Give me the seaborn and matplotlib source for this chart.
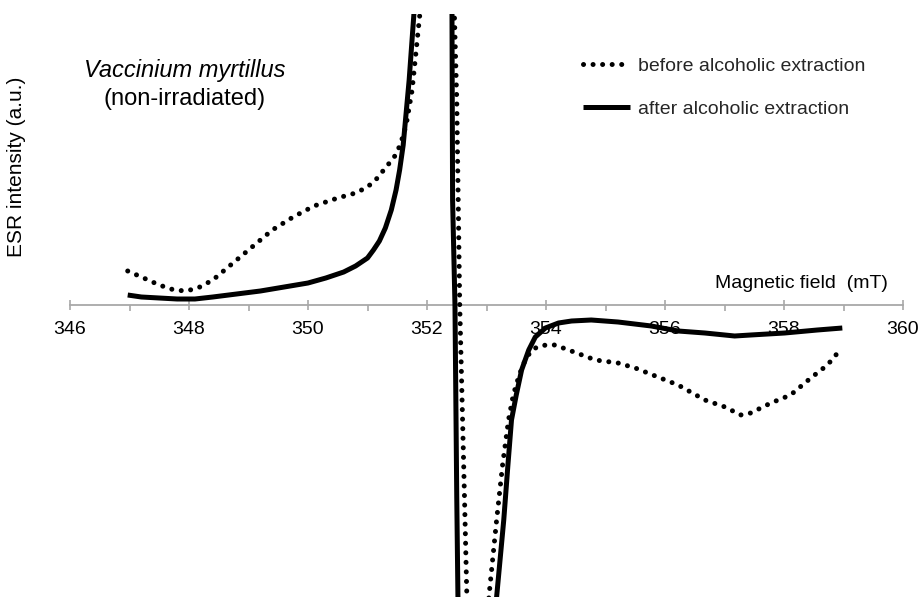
import numpy as np
import pandas as pd
import matplotlib
matplotlib.use("Agg")
import matplotlib.pyplot as plt
from matplotlib.ticker import MultipleLocator
import seaborn as sns

# ---- data (y in arbitrary units) ----
after_x = [346.97, 347.2, 347.5, 347.8, 348.1, 348.4, 348.8, 349.2, 349.6, 350.0,
           350.3, 350.6, 350.8, 351.0, 351.1, 351.2, 351.3, 351.4, 351.48, 351.54,
           351.6, 351.7, 351.78, 351.85,
           352.40, 352.42, 352.43, 352.47, 352.50, 352.52, 352.57,
           353.15, 353.17, 353.29, 353.36, 353.42, 353.50, 353.59, 353.71, 353.82,
           353.99, 354.21, 354.43, 354.76, 355.21, 355.77, 356.22, 356.67, 357.17,
           357.44, 358.01, 358.56, 358.98]
after_y = [10, 8, 7, 6, 6, 8, 11, 14, 18, 22,
           27, 33, 39, 47, 55, 64, 77, 95, 115, 135,
           160, 225, 291, 355,
           355, 291, 105, 0, -192, -292, -345,
           -345, -292, -215, -160, -115, -90, -65, -45, -32,
           -23, -18, -16, -15, -17, -21, -26, -28, -31,
           -30, -28, -25, -23]

before_x = [346.97, 347.2, 347.5, 347.75, 347.95, 348.15, 348.4, 348.7, 349.0,
            349.4, 349.75, 350.1, 350.5, 350.8, 351.0, 351.15, 351.3, 351.45,
            351.55, 351.65, 351.75, 351.88, 351.96,
            352.45, 352.46, 352.50, 352.55, 352.63, 352.67, 352.70,
            353.02, 353.04, 353.17, 353.27, 353.37, 353.45, 353.55, 353.65, 353.75,
            353.85, 354.0, 354.15, 354.38, 354.83, 355.21, 355.50, 355.88, 356.22,
            356.67, 357.01, 357.27, 357.44, 357.78, 358.11, 358.45, 358.73, 358.90]
before_y = [34, 28, 20, 15, 14, 17, 25, 40, 55,
            75, 88, 99, 107, 112, 118, 126, 137, 148,
            160, 180, 215, 291, 355,
            355, 291, 205, 0, -192, -292, -345,
            -345, -292, -215, -160, -115, -90, -70, -55, -46,
            -42, -40, -40, -45, -55, -58, -63, -72, -80,
            -95, -102, -110, -108, -98, -90, -73, -60, -48]

series_labels = ["before alcoholic extraction", "after alcoholic extraction"]
x_ticks = [346, 348, 350, 352, 354, 356, 358, 360]

df_before = pd.DataFrame({"field": before_x, "esr": before_y})
df_after = pd.DataFrame({"field": after_x, "esr": after_y})

sns.set_theme(style="white")
plt.rcParams["font.family"] = ["Liberation Sans", "DejaVu Sans"]

W, H = 922, 597
fig = plt.figure(figsize=(W / 100, H / 100), dpi=100)
ax = fig.add_axes([70 / W, 0, 833 / W, (H - 14) / H])

sns.lineplot(data=df_before, x="field", y="esr", ax=ax, color="black",
             linewidth=3.6, sort=False, estimator=None,
             label=series_labels[0])
sns.lineplot(data=df_after, x="field", y="esr", ax=ax, color="black",
             linewidth=3.6, sort=False, estimator=None,
             label=series_labels[1])
l_before, l_after = ax.get_lines()[:2]
l_before.set_linestyle((0, (0.01, 1.9)))
l_before.set_dash_capstyle("round")
l_after.set_solid_capstyle("butt")
l_after.set_solid_joinstyle("round")

ax.set_xlim(346, 360)
ax.set_ylim(-292, 291)

for s in ["top", "right", "left"]:
    ax.spines[s].set_visible(False)
gray = "#a8a8a8"
ax.spines["bottom"].set_position(("data", 0))
ax.spines["bottom"].set_color(gray)
ax.spines["bottom"].set_linewidth(1.3)
ax.spines["bottom"].set_zorder(0)

ax.set_xticks(x_ticks)
ax.set_xticklabels([str(t) for t in x_ticks])
ax.xaxis.set_minor_locator(MultipleLocator(1))
ax.tick_params(axis="x", which="major", direction="inout", length=7.5, width=1.2,
               color=gray, labelsize=14, pad=8, labelcolor="black", bottom=True)
ax.tick_params(axis="x", which="minor", direction="out", length=4.5, width=1.2,
               color=gray, bottom=True)
ax.set_yticks([])
ax.set_xlabel("")
ax.set_ylabel("")
for lab in ax.get_xticklabels():
    lab.set_zorder(0)

# axis titles
fig.text(888 / W, 1 - 283 / H, "Magnetic field  (mT)", ha="right", va="center",
         fontsize=14, color="black")
fig.text(17 / W, 1 - 167 / H, "ESR intensity (a.u.)", ha="center", va="center",
         rotation=90, fontsize=15, color="black")

# sample annotation
fig.text(185 / W, 1 - 70 / H, "Vaccinium myrtillus", ha="center", va="center",
         fontsize=17, style="italic", color="black")
fig.text(185 / W, 1 - 99 / H, "(non-irradiated)", ha="center", va="center",
         fontsize=17, color="black")

leg = ax.legend(loc="upper left", bbox_to_anchor=(583 / W, 1 - 57 / H),
                bbox_transform=fig.transFigure, frameon=False, fontsize=14,
                handlelength=2.4, handletextpad=0.45, labelspacing=1.3,
                borderpad=0, borderaxespad=0)

fig.savefig("out.png", dpi=100)
